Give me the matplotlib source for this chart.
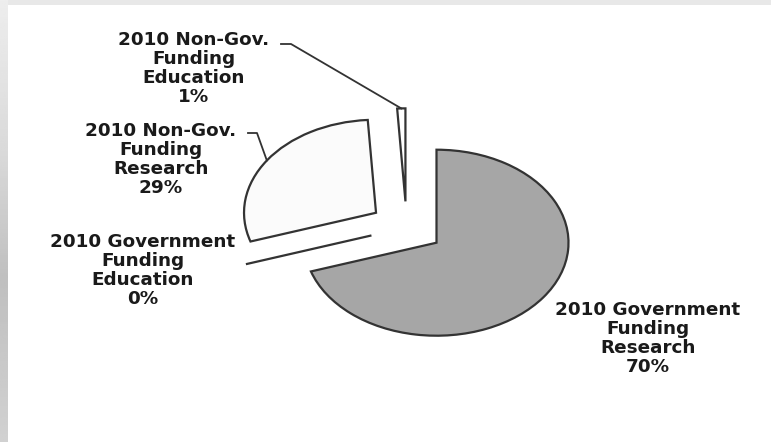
import matplotlib
matplotlib.use("Agg")
import matplotlib.pyplot as plt
import numpy as np
from matplotlib.patches import Rectangle
from matplotlib.lines import Line2D

# Funding split, clockwise from 12 o'clock
categories = [
    "2010 Government\nFunding\nResearch",
    "2010 Government\nFunding\nEducation",
    "2010 Non-Gov.\nFunding\nResearch",
    "2010 Non-Gov.\nFunding\nEducation",
]
shares = [70, 0, 29, 1]
fills = ["#a6a6a6", "#ffffff", "#fbfbfb", "#ffffff"]

W, H = 771, 442
fig = plt.figure(figsize=(W / 100, H / 100), dpi=100)
fig.patch.set_facecolor("white")

# slide frame: thin grey band at top, shaded strip on the left
fig.add_artist(Rectangle((0, 1 - 5 / H), 1, 5 / H, transform=fig.transFigure,
                         facecolor="#e8e8e8", edgecolor="none", zorder=0))
strip = fig.add_axes([0, 0, 8 / W, 1])
ys = np.linspace(0, 1, 200)
shade = np.interp(ys, [0, 0.35, 0.63, 1.0], [0.93, 0.85, 0.75, 0.82])
strip.imshow(shade[:, None], aspect="auto", cmap="gray", vmin=0, vmax=1,
             extent=[0, 1, 1, 0])
strip.set_axis_off()

# pie axes spanning the figure, stretched horizontally
ax = fig.add_axes([0, 0, 1, 1])
ax.patch.set_visible(False)
wedges, _ = ax.pie(shares, explode=[0.28] * 4, startangle=90, counterclock=False,
                   colors=fills, radius=1.0,
                   wedgeprops=dict(edgecolor="#333333", linewidth=1.6))
ax.set_aspect("auto")
cx, cy, rx, ry = 406.6, 227.4, 132.0, 93.0
ax.set_xlim(-cx / rx, (W - cx) / rx)
ax.set_ylim(-(H - cy) / ry, cy / ry)
ax.set_axis_off()

pcts = [f"{v}%" for v in shares]
# label block centres (pixels from top-left) and leader flags
label_pos = [(648, 338), (143, 270), (161, 159), (194, 68)]
leaders = [None, None, (248, 257, 133), (281, 291, 44)]
step = 19

for wedge, cat, pct, (lx, ly), lead in zip(wedges, categories, pcts, label_pos, leaders):
    lines = cat.split("\n") + [pct]
    n = len(lines)
    for i, t in enumerate(lines):
        yy = ly + (i - (n - 1) / 2) * step + 5.5
        fig.text(lx / W, 1 - yy / H, t, ha="center", va="baseline",
                 fontsize=13.2, fontweight="bold", family="DejaVu Sans",
                 color="#1a1a1a")
    if lead is not None:
        x0, x1, yl = lead
        mid = np.deg2rad((wedge.theta1 + wedge.theta2) / 2)
        px = wedge.center[0] + wedge.r * np.cos(mid)
        py = wedge.center[1] + wedge.r * np.sin(mid)
        dx, dy = ax.transData.transform((px, py))
        xs = [x0 / W, x1 / W, dx / W]
        yv = [1 - yl / H, 1 - yl / H, dy / H]
        fig.add_artist(Line2D(xs, yv, transform=fig.transFigure,
                              color="#333333", linewidth=1.3))

fig.savefig("out.png", dpi=100)
